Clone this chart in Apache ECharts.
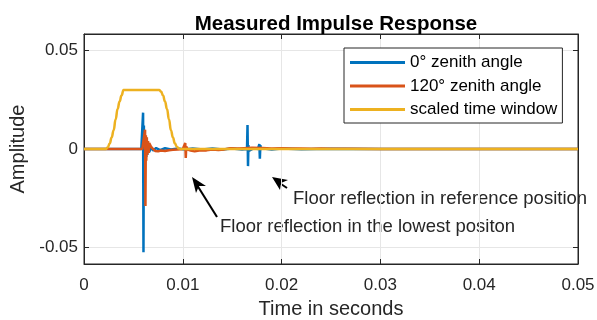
<!DOCTYPE html>
<html>
<head>
<meta charset="utf-8">
<script src="https://cdn.jsdelivr.net/npm/echarts@6/dist/echarts.min.js"></script>
<style>
  html, body { margin: 0; padding: 0; background: #fff; }
  #chart { width: 597px; height: 320px; }
</style>
</head>
<body>
<div id="chart"></div>
<script>
// tick labels
const xTicks = [0, 0.01, 0.02, 0.03, 0.04, 0.05]
const yTicks = [-0.05, 0, 0.05]

// 0° zenith angle (time in s, amplitude)
const blueT = [0, 0.0058, 0.00598, 0.00602, 0.00606, 0.0061, 0.00614, 0.0062, 0.00626, 0.0063, 0.00636, 0.0064, 0.00648, 0.0066, 0.0068, 0.007, 0.0073, 0.0077, 0.0082, 0.0088, 0.0095, 0.0102, 0.011, 0.012, 0.013, 0.014, 0.015, 0.016, 0.0165, 0.01655, 0.0166, 0.01664, 0.01668, 0.0167, 0.0172, 0.0176, 0.01775, 0.0178, 0.01785, 0.0179, 0.0182, 0.019, 0.02, 0.022, 0.025, 0.03, 0.04, 0.05]
const blueV = [0, 0, 0.0185, -0.0525, 0.012, -0.01, 0.009, -0.006, 0.006, -0.004, 0.004, -0.003, 0.002, -0.0015, 0.001, -0.0008, 0.0005, -0.0006, 0.0004, -0.0003, 0.0002, -0.0002, 0.0003, -0.0002, 0.0003, -0.0003, 0.0002, -0.0002, 0, 0.0122, -0.0087, 0.002, -0.001, 0, 0.0004, 0, 0.0025, -0.005, 0.002, 0, 0.0003, -0.0002, 0.0002, -0.0001, 0.0001, 0, 0, 0]

// 120° zenith angle
const redT = [0, 0.0059, 0.0061, 0.00618, 0.00622, 0.00626, 0.0063, 0.00636, 0.0064, 0.00648, 0.00655, 0.0066, 0.0068, 0.007, 0.0072, 0.0075, 0.0078, 0.0082, 0.0086, 0.009, 0.0095, 0.01, 0.0102, 0.01025, 0.0103, 0.01035, 0.0105, 0.0108, 0.0112, 0.0118, 0.0124, 0.013, 0.0136, 0.0142, 0.0148, 0.0155, 0.0162, 0.017, 0.018, 0.019, 0.02, 0.021, 0.022, 0.023, 0.024, 0.025, 0.027, 0.03, 0.035, 0.04, 0.045, 0.05]
const redV = [0, 0, 0, 0.0098, -0.029, 0.007, -0.006, 0.006, -0.003, 0.004, -0.002, 0.003, 0.001, 0.0015, -0.001, -0.0012, -0.0008, -0.001, -0.0006, -0.0004, -0.0002, 0, -0.0004, 0.003, -0.0046, 0.0012, -0.0003, -0.0008, -0.0012, -0.0006, -0.0007, -0.0003, -0.0005, -0.0002, 0.0004, 0.0002, 0.0004, 0.0006, 0.0005, 0.0003, 0.0004, 0.0002, 0.0003, 0.0001, 0.0002, 0.0001, 0.0001, 0, 0, 0, 0, 0]

// scaled time window
const winT = [0, 0.0022, 0.0024, 0.0026, 0.0028, 0.003, 0.0032, 0.0034, 0.0036, 0.0038, 0.004, 0.0076, 0.0078, 0.008, 0.0082, 0.0084, 0.0086, 0.0088, 0.009, 0.0092, 0.0094, 0.0096, 0.0098, 0.05]
const winV = [0, 0, 0.0007, 0.0028, 0.0059, 0.0096, 0.0150, 0.0204, 0.0241, 0.0272, 0.03, 0.03, 0.0293, 0.0272, 0.0241, 0.0204, 0.0150, 0.0096, 0.0059, 0.0028, 0.0012, 0.0003, 0, 0]

const seriesNames = ["0° zenith angle", "120° zenith angle", "scaled time window"]
const colors = ["#0072BD", "#D95319", "#EDB120"]

const font = "Liberation Sans, Arial, sans-serif"
const axisColor = "#262626"

const chart = echarts.init(document.getElementById("chart"), null, { renderer: "canvas" })

const zip = (t, v) => t.map((x, i) => [x, v[i]])
const fmt = (v) => String(+v.toFixed(2))

const option = {
  animation: false,
  title: {
    text: "Measured Impulse Response",
    left: 331,
    top: 9,
    textAlign: "center",
    textStyle: { fontFamily: font, fontSize: 20.5, fontWeight: "bold", color: "#000" },
  },
  legend: {
    data: seriesNames,
    orient: "vertical",
    left: 344,
    top: 48,
    padding: [6, 5, 5, 6],
    itemGap: 6.5,
    itemWidth: 55,
    itemHeight: 3,
    icon: "rect",
    backgroundColor: "#fff",
    borderColor: axisColor,
    borderWidth: 1,
    borderRadius: 0,
    textStyle: { fontFamily: font, fontSize: 17, color: "#000", padding: [0, 0, 0, 0] },
  },
  grid: {
    left: 84, right: 19, top: 34, bottom: 56,
    outerBoundsMode: "none",
    show: true, borderColor: axisColor, borderWidth: 1,
  },
  xAxis: [
    {
      type: "value", min: 0, max: 0.05, interval: 0.01,
      name: "Time in seconds", nameLocation: "middle", nameGap: 35,
      nameTextStyle: { fontFamily: font, fontSize: 20, color: "#262626" },
      axisLine: { show: true, onZero: false, lineStyle: { color: axisColor } },
      axisTick: { inside: true, length: 5, lineStyle: { color: axisColor } },
      axisLabel: { fontFamily: font, fontSize: 17, color: "#262626", margin: 13, formatter: fmt },
      splitLine: { show: true, lineStyle: { color: "#e6e6e6" } },
    },
    {
      type: "value", min: 0, max: 0.05, interval: 0.01, position: "top",
      axisLine: { show: true, onZero: false, lineStyle: { color: axisColor } },
      axisTick: { inside: true, length: 5, lineStyle: { color: axisColor } },
      axisLabel: { show: false },
      splitLine: { show: false },
    },
  ],
  yAxis: [
    {
      type: "value", min: -0.0585, max: 0.0585,
      name: "Amplitude", nameLocation: "middle", nameGap: 55,
      nameTextStyle: { fontFamily: font, fontSize: 20, color: "#262626" },
      axisLine: { show: true, onZero: false, lineStyle: { color: axisColor } },
      axisTick: { inside: true, length: 5, customValues: yTicks, lineStyle: { color: axisColor } },
      axisLabel: { fontFamily: font, fontSize: 17, color: "#262626", margin: 6, customValues: yTicks, formatter: fmt },
      splitLine: { show: true, lineStyle: { color: "#e6e6e6" } },
    },
    {
      type: "value", min: -0.0585, max: 0.0585, position: "right",
      axisLine: { show: true, onZero: false, lineStyle: { color: axisColor } },
      axisTick: { inside: true, length: 5, customValues: yTicks, lineStyle: { color: axisColor } },
      axisLabel: { show: false },
      splitLine: { show: false },
    },
  ],
  series: [
    { name: seriesNames[0], type: "line", data: zip(blueT, blueV), showSymbol: false, lineStyle: { width: 2.5, color: colors[0] }, itemStyle: { color: colors[0] }, z: 2 },
    { name: seriesNames[1], type: "line", data: zip(redT, redV), showSymbol: false, lineStyle: { width: 2.5, color: colors[1] }, itemStyle: { color: colors[1] }, z: 3 },
    { name: seriesNames[2], type: "line", data: zip(winT, winV), showSymbol: false, smooth: 0.5, smoothMonotone: "x", lineStyle: { width: 2.5, color: colors[2] }, itemStyle: { color: colors[2] }, z: 4 },
  ],
  graphic: [
    // arrow toward the lowest-position reflection
    { type: "line", shape: { x1: 217, y1: 217, x2: 197, y2: 185 }, style: { stroke: "#000", lineWidth: 2 } },
    { type: "polygon", shape: { points: [[192, 177], [206, 186], [199, 186], [196, 193]] }, style: { fill: "#000" } },
    { type: "text", left: 220, top: 217, style: { text: "Floor reflection in the lowest positon", fontFamily: font, fontSize: 18.5, fill: "#262626" } },
    // arrow toward the reference-position reflection
    { type: "line", shape: { x1: 287, y1: 188, x2: 278, y2: 182 }, style: { stroke: "#000", lineWidth: 2 } },
    { type: "polygon", shape: { points: [[272, 177], [288, 180], [281, 183], [280, 190]] }, style: { fill: "#000" } },
    { type: "text", left: 293, top: 189, style: { text: "Floor reflection in reference position", fontFamily: font, fontSize: 18.5, fill: "#262626" } },
  ],
}

chart.setOption(option)
</script>
</body>
</html>
